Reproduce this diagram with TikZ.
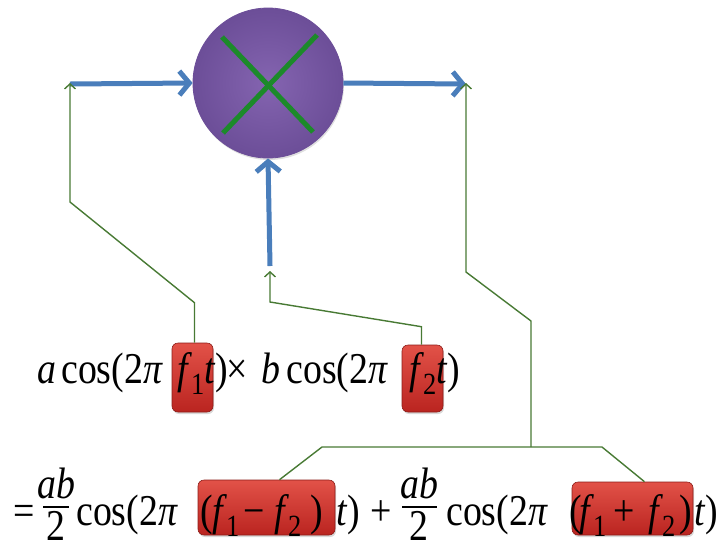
\documentclass[tikz,border=0pt]{standalone}
\usepackage{graphicx}
\usepackage{fontspec}
\setmainfont{Liberation Serif}
\usetikzlibrary{arrows.meta,shadows}
\definecolor{bluearrow}{RGB}{74,126,187}
\definecolor{xgreen}{RGB}{28,138,42}
\definecolor{linkgreen}{RGB}{72,122,52}
\definecolor{purpfill}{RGB}{132,100,176}
\definecolor{purpedge}{RGB}{108,78,152}
\definecolor{redtop}{RGB}{226,82,72}
\definecolor{redbot}{RGB}{186,36,32}
\definecolor{rededge}{RGB}{140,28,24}
\newcommand{\eqtxt}[1]{\scalebox{0.86}[1]{#1}}
\tikzset{
  mixer/.style={circle, minimum size=150pt, inner sep=0pt, shading=radial,
    inner color=purpfill, outer color=purpedge, draw=purpedge, line width=0.8pt,
    drop shadow={opacity=0.25, shadow xshift=1pt, shadow yshift=-2pt}},
  flow/.style={draw=bluearrow, line width=5pt, -{Straight Barb[length=10pt,width=24pt]}},
  crossline/.style={draw=xgreen, line width=5pt},
  link/.style={draw=linkgreen, line width=1.4pt},
  linkarrow/.style={link, -{Straight Barb[length=5pt,width=11pt]}},
  hilite/.style={rounded corners=6pt, inner sep=0pt, top color=redtop, bottom color=redbot,
    draw=rededge, line width=0.6pt,
    drop shadow={opacity=0.3, shadow xshift=1pt, shadow yshift=-2pt}},
  eq/.style={inner sep=0pt, anchor=base west, font=\fontsize{44}{50}\selectfont},
  eqc/.style={inner sep=0pt, anchor=base, font=\fontsize{44}{50}\selectfont},
  fracbar/.style={draw=black, line width=1.3pt},
}
\begin{document}
\begin{tikzpicture}[x=1pt,y=-1pt]
\useasboundingbox (0,0) rectangle (722,550);
% mixer
\node[mixer] (mix) at (268,83) {};
\draw[crossline] (222,37) -- (313,132);
\draw[crossline] (317,35) -- (223,133);
\coordinate (inL) at (70,84);
\coordinate (outR) at (466,84);
\coordinate (inB) at (270,266);
\draw[flow] (inL) -- (mix.west);
\draw[flow] (mix.east) -- (outR);
\draw[flow] (inB) -- (mix.south);
% highlight boxes
\node[hilite, minimum width=41pt, minimum height=69pt] (b1) at (192.5,377.5) {};
\node[hilite, minimum width=41pt, minimum height=67pt] (b2) at (422.5,378.5) {};
\node[hilite, minimum width=137pt, minimum height=55pt] (b3) at (266.5,507.5) {};
\node[hilite, minimum width=121pt, minimum height=53pt] (b4) at (632.5,508.5) {};
% top expression
\node[eq] (t1) at (37,383) {\eqtxt{\textit{a}}};
\node[eq] (t2) at (61,383) {\eqtxt{cos(2\textit{π}}};
\node[eq] (t3) at (177,383) {\eqtxt{\textit{f}\kern-1pt\textsubscript{1}\kern-1pt\textit{t})}};
\node[eq] (t4) at (226,383) {\eqtxt{×}};
\node[eq] (t5) at (261,383) {\eqtxt{\textit{b}\,cos(2\textit{π}}};
\node[eq] (t6) at (409,383) {\eqtxt{\textit{f}\kern-1pt\textsubscript{2}\kern-1pt\textit{t})}};
% bottom expression
\node[eq] (u1) at (13,525) {\eqtxt{=}};
\node[eqc] (n1) at (56,498) {\eqtxt{\textit{ab}}};
\draw[fracbar] (43,507) -- (69,507);
\node[eqc] (d1) at (56,540) {\eqtxt{2}};
\node[eq] (u2) at (76,525) {\eqtxt{cos(2\textit{π}}};
\node[eq] (u3) at (200,525) {\eqtxt{(}};
\node[eq] (u4) at (212,525) {\eqtxt{\textit{f}\kern-1pt\textsubscript{1}}};
\node[eq] (u5) at (243,525) {\eqtxt{−}};
\node[eq] (u6) at (274,525) {\eqtxt{\textit{f}\kern-1pt\textsubscript{2}}};
\node[eq] (u7) at (310,525) {\eqtxt{)}};
\node[eq] (u8) at (336,525) {\eqtxt{\textit{t})}};
\node[eq] (u9) at (370,525) {\eqtxt{+}};
\node[eqc] (n2) at (419,498) {\eqtxt{\textit{ab}}};
\draw[fracbar] (402,507) -- (437,507);
\node[eqc] (d2) at (419,540) {\eqtxt{2}};
\node[eq] (u10) at (446,525) {\eqtxt{cos(2\textit{π}}};
\node[eq] (u11) at (569,525) {\eqtxt{(}};
\node[eq] (u12) at (579,525) {\eqtxt{\textit{f}\kern-1pt\textsubscript{1}}};
\node[eq] (u13) at (613,525) {\eqtxt{+}};
\node[eq] (u14) at (648,525) {\eqtxt{\textit{f}\kern-1pt\textsubscript{2}}};
\node[eq] (u15) at (679,525) {\eqtxt{)}};
\node[eq] (u16) at (694,525) {\eqtxt{\textit{t})}};
% connectors
\coordinate (gL) at (70,202);
\coordinate (gM) at (270,302);
\coordinate (gB) at (270,271);
\coordinate (gR1) at (531,321);
\coordinate (gR2) at (466,272);
\coordinate (fk) at (531,447);
\coordinate (fkL) at (322,447);
\coordinate (fkR) at (602,447);
\draw[linkarrow] ([xshift=2pt]b1.north) -- ++(0,-40) -- (gL) -- ([yshift=1pt]inL);
\draw[linkarrow] ([xshift=-1pt]b2.north) -- ++(0,-18) -- (gM) -- (gB);
\draw[link] ([xshift=13pt]b3.north) -- (fkL) -- (fkR) -- ([xshift=12pt]b4.north);
\draw[linkarrow] (fk) -- (gR1) -- (gR2) -- ([yshift=1pt]outR);
\end{tikzpicture}
\end{document}
